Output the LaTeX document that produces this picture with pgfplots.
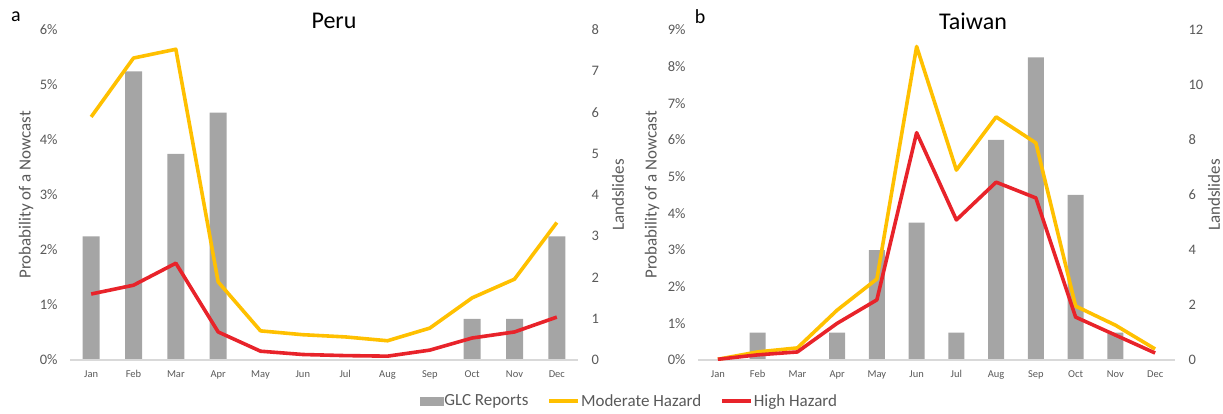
\documentclass[border=0pt]{standalone}
\usepackage{fontspec}
\setmainfont{Carlito}
\usepackage{pgfplots}
\pgfplotsset{compat=1.18}
\definecolor{barcol}{HTML}{A5A5A5}
\definecolor{modcol}{HTML}{FFC000}
\definecolor{highcol}{HTML}{E8232A}
\definecolor{txt}{HTML}{595959}
\definecolor{basecol}{HTML}{D9D9D9}
\pgfplotsset{
  common/.style={scale only axis, xmin=-0.5, xmax=11.5, height=330pt, ymin=0,
    axis line style={draw=none}, major tick length=0pt, tick style={draw=none},
    /pgf/number format/assume math mode=true,
    yticklabel style={font=\fontsize{14.5}{14.5}\selectfont, text=txt},
    ylabel style={font=\fontsize{17}{17}\selectfont, text=txt},
    xtick={0,...,11},
    xticklabels={Jan,Feb,Mar,Apr,May,Jun,Jul,Aug,Sep,Oct,Nov,Dec},
    xticklabel style={font=\fontsize{10.5}{10.5}\selectfont, text=txt, yshift=-7pt},
  },
  barax/.style={common, axis y line*=right, axis x line=none,
    yticklabel style={xshift=10pt}},
  lineax/.style={common, axis y line*=left, axis x line*=bottom,
    yticklabel style={xshift=-9pt},
    yticklabel={\pgfmathprintnumber{\tick}\%}},
  modstyle/.style={modcol, line width=3.6pt, line join=round},
  highstyle/.style={highcol, line width=3.6pt, line join=round},
}
\begin{document}
\begin{tikzpicture}
\useasboundingbox (0,0) rectangle (1223pt,413pt);
% ---------- Peru ----------
\begin{axis}[barax, width=508pt, at={(70pt,53pt)}, anchor=south west,
  ymax=8, ytick={0,...,8}, ylabel={Landslides},
  ylabel style={at={(axis description cs:1.0787,0.5)}, anchor=center}]
\addplot[ybar, bar width=17pt, fill=barcol, draw=none] coordinates {
 (0,3) (1,7) (2,5) (3,6) (4,0) (5,0) (6,0) (7,0) (8,0) (9,1) (10,1) (11,3)};
\end{axis}
\begin{axis}[lineax, width=508pt, at={(70pt,53pt)}, anchor=south west,
  ymax=6, ytick={0,...,6}, ylabel={Probability of a Nowcast},
  ylabel style={at={(axis description cs:-0.0866,0.5)}, anchor=center},
  legend image code/.code={\draw[#1] (0pt,0pt) -- (29pt,0pt);},
  legend style={draw=none, fill=none, legend columns=3,
    font=\fontsize{17}{17}\selectfont, text=txt,
    at={(axis description cs:1.1004,-0.124)}, anchor=center,
    /tikz/every even column/.append style={column sep=18pt},
    nodes={inner sep=1pt}}]
\draw[basecol, line width=1.5pt] (axis cs:-0.5,0) -- (axis cs:11.5,0);
\addlegendimage{legend image code/.code={\fill[barcol] (0pt,-4pt) rectangle (23pt,4pt);}}
\addlegendentry{GLC Reports}
\addplot[modstyle] coordinates {
 (0,4.42) (1,5.49) (2,5.65) (3,1.42) (4,0.53) (5,0.46) (6,0.42) (7,0.35) (8,0.58) (9,1.13) (10,1.47) (11,2.50)};
\addlegendentry{Moderate Hazard}
\addplot[highstyle] coordinates {
 (0,1.20) (1,1.36) (2,1.76) (3,0.51) (4,0.16) (5,0.10) (6,0.08) (7,0.07) (8,0.18) (9,0.40) (10,0.51) (11,0.78)};
\addlegendentry{High Hazard}
\end{axis}
% ---------- Taiwan ----------
\begin{axis}[barax, width=477pt, at={(698pt,53pt)}, anchor=south west,
  ymax=12, ytick={0,2,...,12}, ylabel={Landslides},
  ylabel style={at={(axis description cs:1.0818,0.5)}, anchor=center}]
\addplot[ybar, bar width=16pt, fill=barcol, draw=none] coordinates {
 (0,0) (1,1) (2,0) (3,1) (4,4) (5,5) (6,1) (7,8) (8,11) (9,6) (10,1) (11,0)};
\end{axis}
\begin{axis}[lineax, width=477pt, at={(698pt,53pt)}, anchor=south west,
  ymax=9, ytick={0,...,9}, ylabel={Probability of a Nowcast},
  ylabel style={at={(axis description cs:-0.0964,0.5)}, anchor=center}]
\draw[basecol, line width=1.5pt] (axis cs:-0.5,0) -- (axis cs:11.5,0);
\addplot[modstyle] coordinates {
 (0,0.02) (1,0.22) (2,0.33) (3,1.36) (4,2.21) (5,8.55) (6,5.18) (7,6.63) (8,5.92) (9,1.47) (10,0.95) (11,0.30)};
\addplot[highstyle] coordinates {
 (0,0.02) (1,0.14) (2,0.22) (3,1.00) (4,1.64) (5,6.20) (6,3.82) (7,4.85) (8,4.42) (9,1.17) (10,0.68) (11,0.19)};
\end{axis}
% ---------- titles ----------
\node[font=\fontsize{24}{24}\selectfont] at (334pt,392pt) {Peru};
\node[font=\fontsize{24}{24}\selectfont] at (973pt,392pt) {Taiwan};
\node[font=\fontsize{20}{20}\selectfont] at (16pt,396pt) {a};
\node[font=\fontsize{20}{20}\selectfont] at (700pt,396pt) {b};
\end{tikzpicture}
\end{document}
